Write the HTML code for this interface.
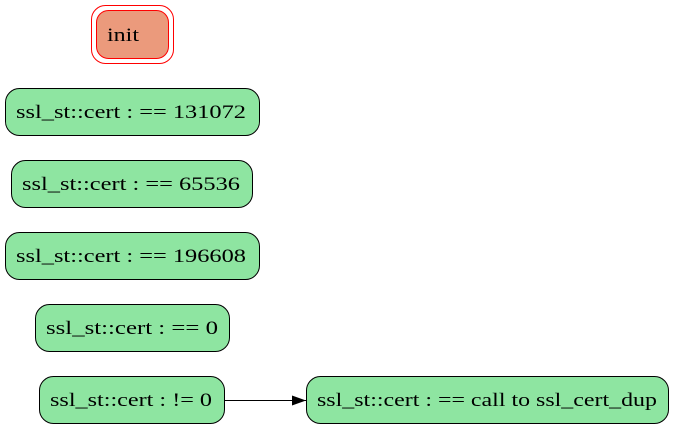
<!DOCTYPE html>
<html><head><meta charset="utf-8"><style>html,body{margin:0;padding:0;background:#fff}svg{display:block}</style></head>
<body>
<svg width="675" height="429" viewBox="0 0 675 429" xmlns="http://www.w3.org/2000/svg" font-family="'Liberation Serif', serif" font-size="19">
<defs><marker id="a" markerWidth="14" markerHeight="10" refX="14" refY="5" orient="auto" markerUnits="userSpaceOnUse"><path d="M0,0 L14,5 L0,10 z" fill="#000"/></marker></defs>
<rect x="91.5" y="5.5" width="82" height="58" rx="14" fill="none" stroke="#ff0000"/>
<rect x="96.5" y="10.5" width="72" height="48" rx="12" fill="#eb9a7c" stroke="#ff0000"/>
<text x="107" y="41" textLength="32" lengthAdjust="spacingAndGlyphs">init</text>
<g fill="#8ee5a1" stroke="#000">
<rect x="5.5" y="88.5" width="254" height="47" rx="14"/>
<rect x="11.5" y="160.5" width="241" height="47" rx="14"/>
<rect x="5.5" y="232.5" width="254" height="47" rx="14"/>
<rect x="35.5" y="304.5" width="194" height="47" rx="14"/>
<rect x="39.5" y="376.5" width="185" height="47" rx="14"/>
<rect x="306.5" y="376.5" width="362" height="47" rx="14"/>
</g>
<line x1="225" y1="400.5" x2="306" y2="400.5" stroke="#000" marker-end="url(#a)"/>
<text x="16" y="118" textLength="230" lengthAdjust="spacingAndGlyphs">ssl_st::cert : == 131072</text>
<text x="22" y="190" textLength="218" lengthAdjust="spacingAndGlyphs">ssl_st::cert : == 65536</text>
<text x="16" y="262" textLength="230" lengthAdjust="spacingAndGlyphs">ssl_st::cert : == 196608</text>
<text x="46" y="334" textLength="172" lengthAdjust="spacingAndGlyphs">ssl_st::cert : == 0</text>
<text x="50" y="406" textLength="162" lengthAdjust="spacingAndGlyphs">ssl_st::cert : != 0</text>
<text x="317" y="406" textLength="340" lengthAdjust="spacingAndGlyphs">ssl_st::cert : == call to ssl_cert_dup</text>
</svg>
</body></html>
